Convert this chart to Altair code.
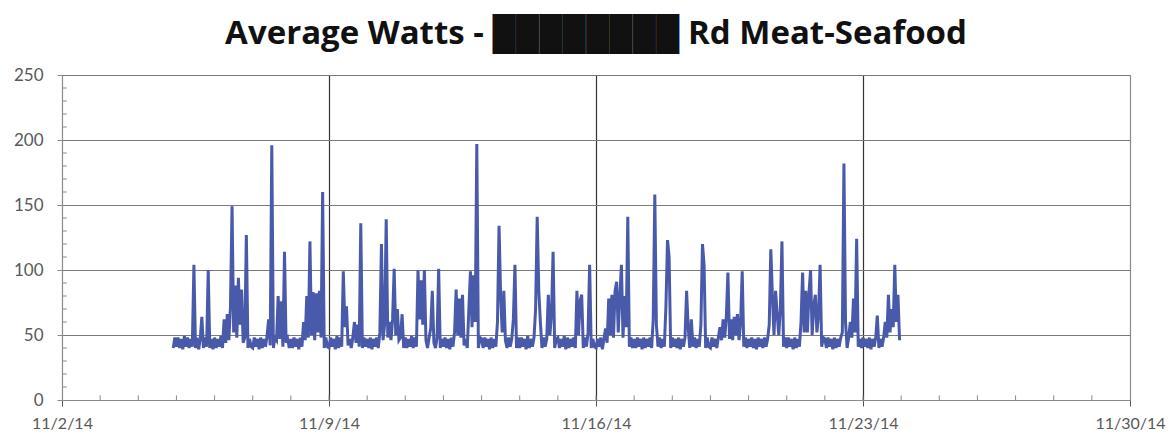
import altair as alt
import pandas as pd

# ---- data: hourly average watts ----
series_start = "2014-11-04 22:00"
nov04 = [40, 48]
nov05 = [41, 48, 40, 47, 39, 49, 41, 48, 40, 47, 41, 104, 40, 48, 39, 47, 64, 40, 48, 41, 100, 40, 47, 39]
nov06 = [48, 40, 47, 41, 49, 40, 62, 44, 66, 46, 72, 149, 52, 88, 48, 94, 58, 85, 44, 48, 127, 40, 47, 41]
nov07 = [40, 48, 41, 47, 39, 48, 40, 47, 41, 49, 62, 42, 196, 40, 48, 46, 80, 47, 76, 41, 114, 44, 47, 40]
nov08 = [47, 40, 48, 41, 47, 39, 48, 41, 60, 46, 80, 48, 122, 50, 83, 46, 82, 52, 84, 48, 160, 40, 48, 41]
nov09 = [40, 48, 41, 47, 39, 49, 40, 48, 41, 99, 56, 72, 42, 47, 40, 48, 60, 44, 58, 41, 136, 40, 48, 41]
nov10 = [47, 40, 48, 39, 47, 41, 48, 40, 52, 120, 46, 58, 139, 48, 60, 46, 62, 101, 50, 70, 46, 48, 66, 40]
nov11 = [48, 40, 47, 41, 49, 40, 48, 41, 100, 62, 92, 58, 100, 46, 40, 48, 55, 84, 44, 40, 48, 101, 40, 47]
nov12 = [41, 48, 40, 47, 39, 48, 41, 52, 85, 50, 78, 48, 81, 42, 47, 40, 70, 99, 56, 96, 60, 197, 40, 48]
nov13 = [47, 40, 48, 41, 47, 39, 48, 40, 47, 41, 60, 134, 80, 52, 84, 46, 40, 48, 41, 47, 62, 104, 40, 48]
nov14 = [40, 48, 41, 47, 39, 49, 40, 47, 41, 48, 70, 141, 84, 60, 40, 48, 41, 47, 81, 50, 66, 114, 40, 47]
nov15 = [48, 40, 47, 41, 49, 39, 48, 40, 47, 41, 48, 40, 84, 50, 76, 81, 40, 48, 41, 52, 104, 40, 47, 41]
nov16 = [40, 47, 41, 48, 39, 47, 55, 44, 78, 50, 81, 48, 84, 91, 52, 80, 104, 48, 80, 56, 141, 41, 48, 40]
nov17 = [47, 40, 48, 41, 47, 39, 48, 40, 47, 41, 48, 40, 62, 158, 58, 41, 48, 40, 47, 41, 72, 123, 110, 40]
nov18 = [48, 41, 47, 40, 48, 39, 47, 41, 48, 84, 56, 40, 62, 41, 48, 40, 47, 41, 58, 120, 104, 40, 48, 41]
nov19 = [40, 48, 41, 47, 40, 48, 56, 46, 62, 48, 64, 98, 47, 62, 46, 64, 50, 66, 46, 60, 99, 41, 48, 40]
nov20 = [47, 41, 48, 40, 47, 39, 48, 41, 47, 40, 48, 41, 47, 58, 116, 80, 50, 84, 66, 50, 70, 122, 41, 48]
nov21 = [40, 48, 41, 47, 39, 48, 40, 47, 41, 60, 98, 52, 84, 52, 82, 100, 50, 72, 81, 52, 66, 104, 41, 48]
nov22 = [47, 40, 48, 41, 47, 39, 48, 40, 47, 41, 48, 52, 182, 60, 40, 48, 60, 48, 78, 52, 124, 41, 47, 40]
nov23 = [48, 41, 47, 40, 48, 39, 47, 41, 48, 65, 40, 47, 41, 48, 60, 48, 81, 52, 70, 56, 104, 60, 81, 46]

days = [nov04, nov05, nov06, nov07, nov08, nov09, nov10, nov11, nov12, nov13, nov14,
        nov15, nov16, nov17, nov18, nov19, nov20, nov21, nov22, nov23]
watts = [v for d in days for v in d]
times = pd.date_range(series_start, periods=len(watts), freq="h")
df = pd.DataFrame({"time": times.strftime("%Y-%m-%dT%H:%M:%S"), "watts": watts})

# axis decorations
minor_x_days = ["2014-11-%02d" % d for d in range(3, 30)]
minor_y_values = [v for v in range(10, 250, 10) if v % 50 != 0]
y_ticks = [0, 50, 100, 150, 200, 250]

x_domain = [alt.DateTime(year=2014, month=11, date=2), alt.DateTime(year=2014, month=11, date=30)]
week_dt = [alt.DateTime(year=2014, month=11, date=d) for d in (2, 9, 16, 23, 30)]

FONT = "Lato"
LABEL_COLOR = "#595959"
GRID = "#7a7a7a"
AX = "#8a8a8a"

x_scale = alt.Scale(domain=x_domain)
y_scale = alt.Scale(domain=[0, 250], nice=False)

X_AXIS = alt.Axis(values=week_dt, format="%-m/%-d/%y", labelFont=FONT, labelFontSize=16,
                  labelColor=LABEL_COLOR, tickSize=6, tickColor="#555555",
                  labelPadding=9, domainColor=AX, labelFlush=False, title=None,
                  gridColor={"condition": {"test": "date(datum.value) == 2 || date(datum.value) == 30",
                                           "value": AX}, "value": "#333333"},
                  gridWidth=1.2)
Y_AXIS = alt.Axis(values=y_ticks, labelFont=FONT, labelFontSize=17, labelColor=LABEL_COLOR,
                  tickSize=5, tickColor=AX, labelPadding=14, domainColor=AX,
                  gridColor=GRID, gridWidth=1.2, labelFlush=False, title=None)

line = alt.Chart(df).mark_line(color="#4A5AAA", strokeWidth=3, interpolate="linear").encode(
    x=alt.X("time:T", scale=x_scale, axis=X_AXIS),
    y=alt.Y("watts:Q", scale=y_scale, axis=Y_AXIS),
)

xminor_df = pd.DataFrame({"time": minor_x_days, "watts": [0] * len(minor_x_days),
                          "top": [3.5] * len(minor_x_days)})
xminor = alt.Chart(xminor_df).mark_rule(color=AX, strokeWidth=1).encode(
    x=alt.X("time:T", scale=x_scale, axis=X_AXIS),
    y=alt.Y("watts:Q", scale=y_scale, axis=Y_AXIS),
    y2="top:Q",
)

yminor_df = pd.DataFrame({"watts": minor_y_values,
                          "time": ["2014-11-02T00:00:00"] * len(minor_y_values),
                          "end": ["2014-11-02T03:00:00"] * len(minor_y_values)})
yminor = alt.Chart(yminor_df).mark_rule(color=AX, strokeWidth=1).encode(
    x=alt.X("time:T", scale=x_scale, axis=X_AXIS),
    x2="end:T",
    y=alt.Y("watts:Q", scale=y_scale, axis=Y_AXIS),
)

title_text = "Average Watts - \u2588\u2588\u2588\u2588\u2588\u2588\u2588\u2588 Rd Meat-Seafood"

chart = alt.layer(line, xminor, yminor).properties(
    width=1068, height=325,
    title=alt.TitleParams(text=title_text, font="Open Sans", fontSize=33, fontWeight="bold",
                          color="#111111", anchor="middle", offset=15),
    autosize=alt.AutoSizeParams(type="none"),
    padding={"left": 54, "top": 67, "right": 36, "bottom": 30},
).configure_view(stroke=AX, strokeWidth=1.2).configure(background="white")

chart.save("out.html", embed_options={"renderer": "svg", "actions": False})
